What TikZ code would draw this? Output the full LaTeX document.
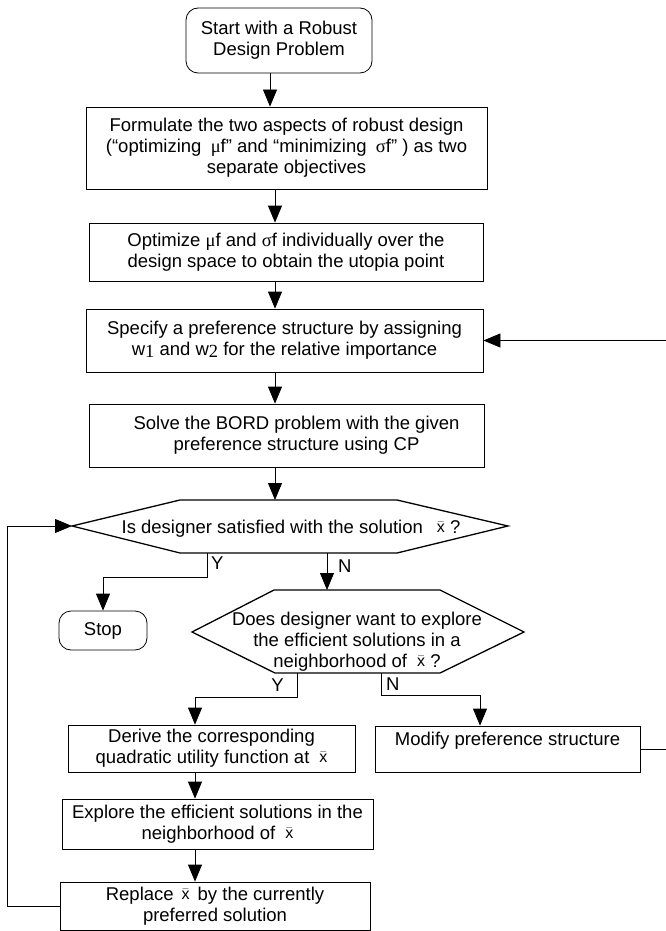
\documentclass[tikz,border=0pt]{standalone}
\usepackage{fontspec}
\setmainfont{Liberation Sans}
\newfontfamily\grk{Liberation Serif}
\usetikzlibrary{arrows.meta}
\newcommand{\xbr}{\raisebox{1pt}{\fontsize{16}{16}\selectfont$\bar{\mathrm{x}}$}}
\tikzset{
  box/.style={draw,line width=0.8pt,align=center,inner sep=0pt},
  arr/.style={-{Triangle[length=17pt,width=14pt]},line width=0.8pt},
  hexline/.style={line width=1.3pt,line join=miter},
}
\begin{document}
\begin{tikzpicture}[x=1pt,y=-1pt,font=\fontsize{18.5}{21}\selectfont]
  \useasboundingbox (0,0) rectangle (666,931);
  \coordinate (ax) at (275,0); % upper arrows
  \coordinate (bx) at (195,0); % lower arrows
  \coordinate (mx) at (480,0);
  \coordinate (lx) at (7,0);   % loop back
  \coordinate (rx) at (672,0); % right return

  \node[box,rounded corners=12pt,minimum width=186,minimum height=65] (start) at (279,40.5) {Start with a Robust\\Design Problem};
  \node[box,minimum width=401,minimum height=82] (form) at (286.5,148) {Formulate the two aspects of robust design\\(“optimizing\enspace{\grk μ}f” and “minimizing\enspace{\grk σ}f” ) as two\\separate objectives};
  \node[box,minimum width=394,minimum height=58] (opt) at (286,252) {Optimize {\grk μ}f and {\grk σ}f individually over the\\design space to obtain the utopia point};
  \node[box,minimum width=397,minimum height=63] (spec) at (284.5,340.5) {Specify a preference structure by assigning\\w{\grk\raisebox{-1.5pt}{1}} and w{\grk\raisebox{-1.5pt}{2}} for the relative importance};
  \node[box,minimum width=395,minimum height=63] (solve) at (286.5,435.5) {\hspace{20pt}Solve the BORD problem with the given\\\hspace{20pt}preference structure using CP};

  % decision 1
  \coordinate (h1a) at (72,526);  \coordinate (h1b) at (180,500);
  \coordinate (h1c) at (397,500); \coordinate (h1d) at (508,526);
  \coordinate (h1e) at (397,553); \coordinate (h1f) at (180,553);
  \draw[hexline] (h1a)--(h1b)--(h1c)--(h1d)--(h1e)--(h1f)--cycle;
  \node (q1) at (291,529) {Is designer satisfied with the solution\hspace{14pt}\xbr{} ?};

  \node[box,rounded corners=12pt,minimum width=88,minimum height=39] (stop) at (103,630.5) {Stop};

  % decision 2
  \coordinate (h2a) at (192,632); \coordinate (h2b) at (274,590);
  \coordinate (h2c) at (440,590); \coordinate (h2d) at (524,632);
  \coordinate (h2e) at (440,673); \coordinate (h2f) at (275,673);
  \draw[hexline] (h2a)--(h2b)--(h2c)--(h2d)--(h2e)--(h2f)--cycle;
  \node[align=center] (q2) at (357,642) {Does designer want to explore\\the efficient solutions in a\\neighborhood of\hspace{10pt}\xbr{} ?};

  \node[box,minimum width=287,minimum height=47] (derive) at (211.5,748.5) {Derive the corresponding\\quadratic utility function at\hspace{10pt}\xbr};
  \node[box,minimum width=265,minimum height=46] (modify) at (507.5,749) {Modify preference structure\\\mbox{}};
  \node[box,minimum width=311,minimum height=50] (explore) at (217.5,824) {Explore the efficient solutions in the\\neighborhood of\hspace{10pt}\xbr};
  \node[box,minimum width=310,minimum height=48] (replace) at (215,906) {Replace\hspace{8pt}\xbr\hspace{8pt}by the currently\\preferred solution};

  \coordinate (y1) at (207,553);
  \coordinate (n1) at (327,553);
  \coordinate (y2) at (297,673);
  \coordinate (n2) at (381,673);
  \node[anchor=west,inner sep=0pt] (ly1) at (211,563) {Y};
  \node[anchor=west,inner sep=0pt] (ln1) at (338,566) {N};
  \node[anchor=east,inner sep=0pt] (ly2) at (284,685) {Y};
  \node[anchor=west,inner sep=0pt] (ln2) at (386,684) {N};

  \draw[arr] (start.south -| 270,0) -- (270,0 |- form.north);
  \draw[arr] (form.south -| ax) -- (opt.north -| ax);
  \draw[arr] (opt.south -| ax) -- (spec.north -| ax);
  \draw[arr] (spec.south -| ax) -- (solve.north -| ax);
  \draw[arr] (solve.south -| ax) -- (ax |- h1b);
  \draw[arr] (y1) -- ++(0,24) -| (stop.north);
  \draw[arr] (n1) -- (n1 |- h2b);
  \draw[arr] (y2) -- ++(0,24) -| (derive.north -| bx);
  \draw[arr] (n2) -- ++(0,22) -| (modify.north -| mx);
  \draw[arr] (derive.south -| bx) -- (explore.north -| bx);
  \draw[arr] (explore.south -| bx) -- (replace.north -| bx);
  \draw[arr] (replace.west) -- (replace.west -| lx) |- (h1a);
  \draw[arr] (modify.east) -- (modify.east -| rx) |- (spec.east);
\end{tikzpicture}
\end{document}
